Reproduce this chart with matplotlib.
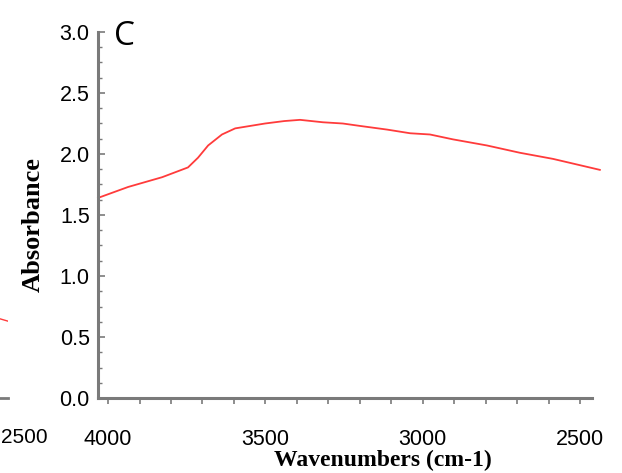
import matplotlib
matplotlib.use("Agg")
import matplotlib.pyplot as plt
from matplotlib.ticker import MultipleLocator

# spectrum (wavenumber cm-1, absorbance)
wavenumber = [4032, 3936, 3828, 3746, 3714, 3682, 3638, 3596, 3501, 3440,
              3390, 3317, 3254, 3199, 3113, 3040, 2977, 2904, 2796, 2691,
              2586, 2437]
absorbance = [1.64, 1.73, 1.81, 1.89, 1.97, 2.07, 2.16, 2.21, 2.25, 2.27,
              2.28, 2.26, 2.25, 2.23, 2.20, 2.17, 2.16, 2.12, 2.07, 2.01,
              1.96, 1.87]

# bit of the neighbouring panel that shows at the left edge
prev_wavenumber = [2560, 2500]
prev_absorbance = [0.66, 0.63]

x_ticks = [4000, 3500, 3000, 2500]
y_ticks = [0.0, 0.5, 1.0, 1.5, 2.0, 2.5, 3.0]

axis_grey = "#7a7a7a"
line_red = "#ff3b3b"

fig = plt.figure(figsize=(6.22, 4.73), dpi=100)

# neighbouring panel, mostly outside the figure
ax0 = fig.add_axes([-0.5, 0.1586, 0.5 + 8 / 622, 0.7734])
ax0.plot(prev_wavenumber, prev_absorbance, color=line_red, lw=1.0)
ax0.set_xlim(4030, 2500)
ax0.set_ylim(0, 3.0)
for s in ["top", "right", "left"]:
    ax0.spines[s].set_visible(False)
ax0.spines["bottom"].set_color(axis_grey)
ax0.spines["bottom"].set_linewidth(2)
ax0.set_xticks([])
ax0.set_yticks([])
fig.text(1 / 622, 1 - 437 / 473, "2500", ha="left", va="center",
         fontsize=15, family="Liberation Sans")

ax = fig.add_axes([98 / 622, 75 / 473, 494 / 622, 366 / 473])
ax.plot(wavenumber, absorbance, color=line_red, lw=1.3, clip_on=False)
ax.set_xlim(4032, 2462)
ax.set_ylim(0, 3.0)

for s in ["top", "right"]:
    ax.spines[s].set_visible(False)
for s in ["left", "bottom"]:
    ax.spines[s].set_color(axis_grey)
    ax.spines[s].set_linewidth(2.2)

ax.set_xticks(x_ticks)
ax.xaxis.set_minor_locator(MultipleLocator(100))
ax.set_yticks(y_ticks)
ax.yaxis.set_minor_locator(MultipleLocator(0.125))

ax.tick_params(axis="x", which="both", direction="out", length=4, width=1.2,
               color=axis_grey, pad=18, labelsize=15.5)
ax.tick_params(axis="y", which="major", direction="in", length=5, width=1.2,
               color=axis_grey, pad=6, labelsize=15.5)
ax.tick_params(axis="y", which="minor", direction="in", length=3, width=1.0,
               color=axis_grey)
for lab in ax.get_xticklabels() + ax.get_yticklabels():
    lab.set_family("Liberation Sans")
ax.set_yticklabels([f"{v:.1f}" for v in y_ticks])

fig.text(383 / 622, 1 - 460 / 473, "Wavenumbers (cm-1)", ha="center",
         va="center", fontsize=17, fontweight="bold", family="Liberation Serif")
fig.text(33 / 622, 1 - 225 / 473, "Absorbance", ha="center", va="center",
         rotation=90, fontsize=19, fontweight="bold", family="Liberation Serif")
fig.text(114 / 622, 1 - 20 / 473, "C", ha="left", va="top", fontsize=24,
         family="Open Sans")

fig.savefig("out.png", dpi=100, facecolor="white")
